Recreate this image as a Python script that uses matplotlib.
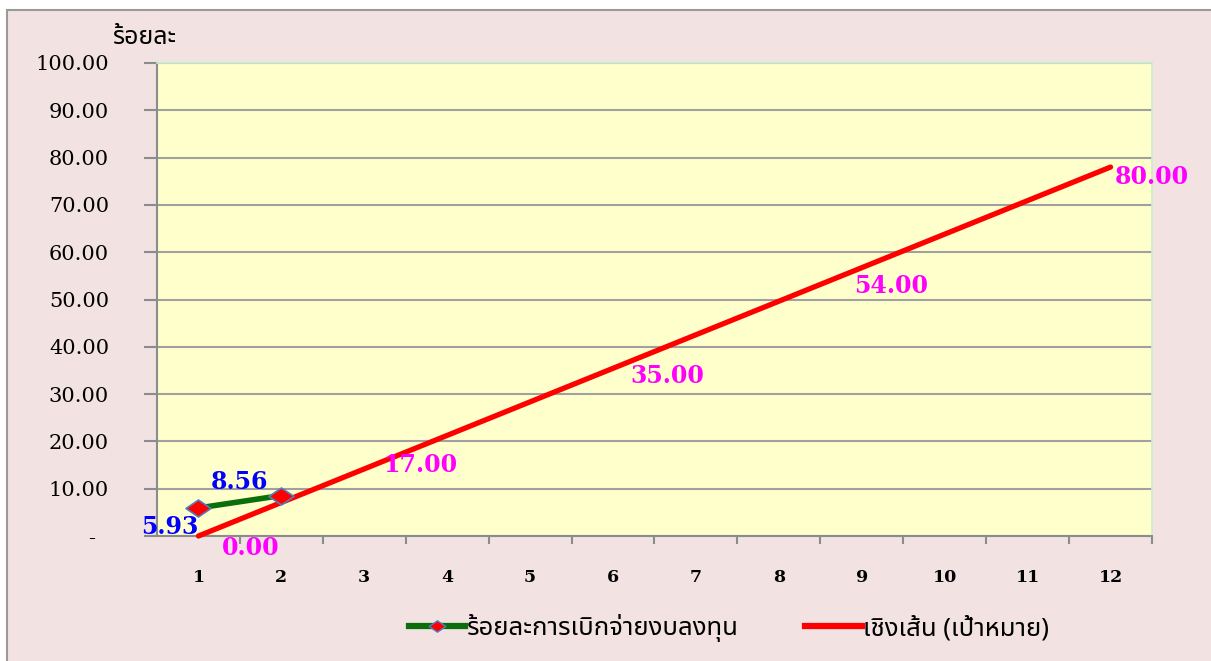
import matplotlib
matplotlib.use('Agg')
import matplotlib.pyplot as plt
from matplotlib import font_manager as fm
from matplotlib.patches import Rectangle
from matplotlib.path import Path
from matplotlib.lines import Line2D

# ---- data ----
months = [1, 2, 3, 4, 5, 6, 7, 8, 9, 10, 11, 12]
month_labels = [str(m) for m in months]
actual_months = [1, 2]
actual_values = [5.93, 8.56]
target_months = [1, 12]
target_values = [0.0, 78.0]
target_label_values = [0.00, 17.00, 35.00, 54.00, 80.00]
y_ticks = [0, 10, 20, 30, 40, 50, 60, 70, 80, 90, 100]
y_tick_labels = ['-  '] + [f'{v:.2f}' for v in y_ticks[1:]]
series_names = ['ร้อยละการเบิกจ่ายงบลงทุน', 'เชิงเส้น (เป้าหมาย)']
y_title = 'ร้อยละ'

# ---- layout for label text (data coords) ----
target_label_pos = [(1.63, -2.6), (3.68, 15.0), (6.66, 33.8), (9.35, 52.8), (12.5, 75.8)]
actual_label_pos = [(0.66, 1.8), (1.5, 11.4)]

# ---- fonts ----
available = {f.name for f in fm.fontManager.ttflist}
thai_pref = ['Noto Sans Thai', 'Noto Sans Thai Looped', 'Tahoma', 'Loma', 'Garuda',
             'Sarabun', 'Noto Sans Thai UI', 'Kanit', 'Prompt', 'Athiti']
thai_font = next((f for f in thai_pref if f in available), 'DejaVu Sans')
serif = 'DejaVu Serif'

W, H = 1211, 661
fig = plt.figure(figsize=(W / 100, H / 100), dpi=100, facecolor='white')
bg = Rectangle((7 / W, -0.2), 1.2, 1.2 - 10 / H, transform=fig.transFigure,
               facecolor='#F2E2E2', edgecolor='#9A9A9A', linewidth=1.5, zorder=-10)
fig.patches.append(bg)

left, right, top, bottom = 157 / W, 1152 / W, 1 - 63 / H, 1 - 536 / H
ax = fig.add_axes([left, bottom, right - left, top - bottom])
ax.set_facecolor('#FFFFCC')
ax.set_xlim(0.5, 12.5)
ax.set_ylim(0, 100)

for s in ['top', 'right']:
    ax.spines[s].set_color('#C8F0C8')
    ax.spines[s].set_linewidth(1.2)
for s in ['left', 'bottom']:
    ax.spines[s].set_color('#8C8C8C')
    ax.spines[s].set_linewidth(1.5)

ax.set_yticks(y_ticks)
ax.set_yticklabels(y_tick_labels, fontfamily=serif, fontsize=15)
ax.yaxis.grid(True, color='#A0A0A0', linewidth=1.5)
ax.set_axisbelow(True)
ax.tick_params(axis='y', length=9.5, width=1.5, color='#8C8C8C', pad=25)

ax.set_xticks(months)
ax.set_xticklabels(month_labels, fontfamily=serif, fontsize=12.5, fontweight='bold')
ax.set_xticks([m + 0.5 for m in months[:-1]] + [12.5], minor=True)
ax.tick_params(axis='x', which='major', length=0, pad=24)
ax.tick_params(axis='x', which='minor', length=6, width=1.5, color='#8C8C8C')

# target line
ax.plot(target_months, target_values, color='#FF0000', linewidth=3.8,
        solid_capstyle='round', zorder=3, clip_on=False)

# actual line with diamond markers
diamond = Path([(-1, 0), (0, 0.68), (1, 0), (0, -0.68), (-1, 0)],
               [Path.MOVETO, Path.LINETO, Path.LINETO, Path.LINETO, Path.CLOSEPOLY])
ax.plot(actual_months, actual_values, color='#0B6E0B', linewidth=4, zorder=4)
ax.plot(actual_months, actual_values, linestyle='none', marker=diamond, markersize=18,
        markerfacecolor='#FF0000', markeredgecolor='#4F81BD', markeredgewidth=1.2, zorder=5)

for v, (x, y) in zip(target_label_values, target_label_pos):
    ax.text(x, y, f'{v:.2f}', color='#FF00FF', fontfamily=serif, fontweight='bold',
            fontsize=17, ha='center', va='center', zorder=6, clip_on=False)
for v, (x, y) in zip(actual_values, actual_label_pos):
    ax.text(x, y, f'{v:.2f}', color='#0000FF', fontfamily=serif, fontweight='bold',
            fontsize=17, ha='center', va='center', zorder=6, clip_on=False)

fig.text(144 / W, 1 - 38 / H, y_title, fontfamily=thai_font, fontweight='bold',
         fontsize=18, ha='center', va='center')

handles = [
    Line2D([0], [0], color='#0B6E0B', linewidth=4.5, marker=diamond, markersize=12,
           markerfacecolor='#FF0000', markeredgecolor='#4F81BD', markeredgewidth=1),
    Line2D([0], [0], color='#FF0000', linewidth=4.5),
]
leg = fig.legend(handles, series_names, loc='center', bbox_to_anchor=(729 / W, 1 - 628 / H),
                 ncol=2, frameon=False, prop={'family': thai_font, 'size': 18.5},
                 handlelength=2.2, handletextpad=0.05, columnspacing=2.6)

fig.savefig('out.png', dpi=100, facecolor='white')
